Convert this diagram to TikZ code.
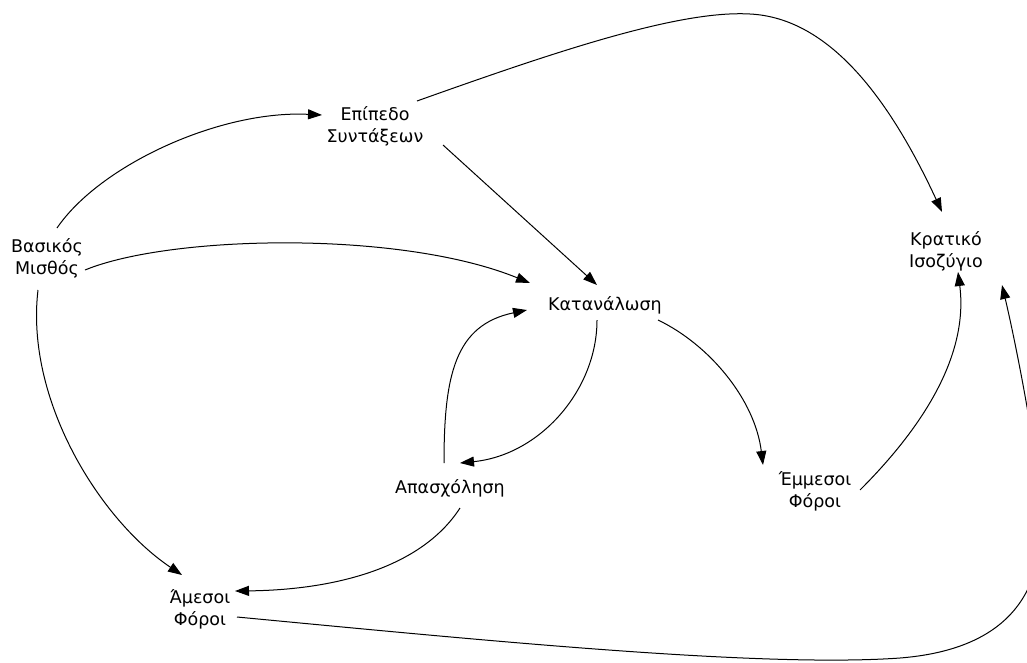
\documentclass[tikz,border=0pt]{standalone}
\usepackage{fontspec}
\setmainfont{DejaVu Sans}
\usetikzlibrary{arrows.meta,calc}
\begin{document}
\begin{tikzpicture}[x=1pt,y=-1pt,
  lbl/.style={align=center,font=\fontsize{17.5}{22}\selectfont,inner sep=0pt},
  conn/.style={line width=1pt,-{Triangle[length=14pt,width=10pt]}}]
\useasboundingbox (0,0) rectangle (1027,662);
\clip (0,0) rectangle (1027,662);
\node[lbl] (bas) at (47,258) {Βασικός\\Μισθός};
\node[lbl] (epi) at (375,126) {Επίπεδο\\Συντάξεων};
\node[lbl] (kat) at (605,305) {Κατανάλωση};
\node[lbl] (kra) at (946,251) {Κρατικό\\Ισοζύγιο};
\node[lbl] (apa) at (450,488) {Απασχόληση};
\node[lbl] (emm) at (815,491) {Έμμεσοι\\Φόροι};
\node[lbl] (ame) at (200,609) {Άμεσοι\\Φόροι};
% Basikos -> Epipedo
\draw[conn] ($(bas)+(10,-30)$) .. controls (100,165) and (220,110) .. ($(epi)+(-53,-11)$);
% Basikos -> Katanalosi
\draw[conn] ($(bas)+(38,12)$) .. controls (170,235) and (400,230) .. ($(kat)+(-75,-22)$);
% Basikos -> Amesoi
\draw[conn] ($(bas)+(-9,32)$) .. controls (25,400) and (100,520) .. ($(ame)+(-18,-34)$);
% Epipedo -> Katanalosi
\draw[conn] ($(epi)+(68,19)$) -- ($(kat)+(-8,-20)$);
% Epipedo -> Kratiko
\draw[conn] ($(epi)+(42,-25)$) .. controls (560,50) and (680,10) .. (750,14)
   .. controls (830,18) and (890,100) .. ($(kra)+(-4,-39)$);
% Katanalosi -> Apasxolisi
\draw[conn] ($(kat)+(-8,15)$) .. controls (597,390) and (540,455) .. ($(apa)+(10,-25)$);
% Apasxolisi -> Katanalosi
\draw[conn] ($(apa)+(-6,-25)$) .. controls (444,375) and (455,325) .. ($(kat)+(-78,5)$);
% Katanalosi -> Emmesoi
\draw[conn] ($(kat)+(53,15)$) .. controls (710,345) and (755,400) .. ($(emm)+(-52,-26)$);
% Emmesoi -> Kratiko
\draw[conn] ($(emm)+(45,-1)$) .. controls (930,420) and (968,350) .. ($(kra)+(12,21)$);
% Apasxolisi -> Amesoi
\draw[conn] ($(apa)+(10,20)$) .. controls (420,570) and (330,590) .. ($(ame)+(35,-18)$);
% Amesoi -> Kratiko
\draw[conn] ($(ame)+(37,8)$) .. controls (480,640) and (760,668) .. (900,658)
   .. controls (1000,650) and (1050,600) .. (1040,500)
   .. controls (1035,440) and (1015,340) .. ($(kra)+(56,34)$);
\end{tikzpicture}
\end{document}
